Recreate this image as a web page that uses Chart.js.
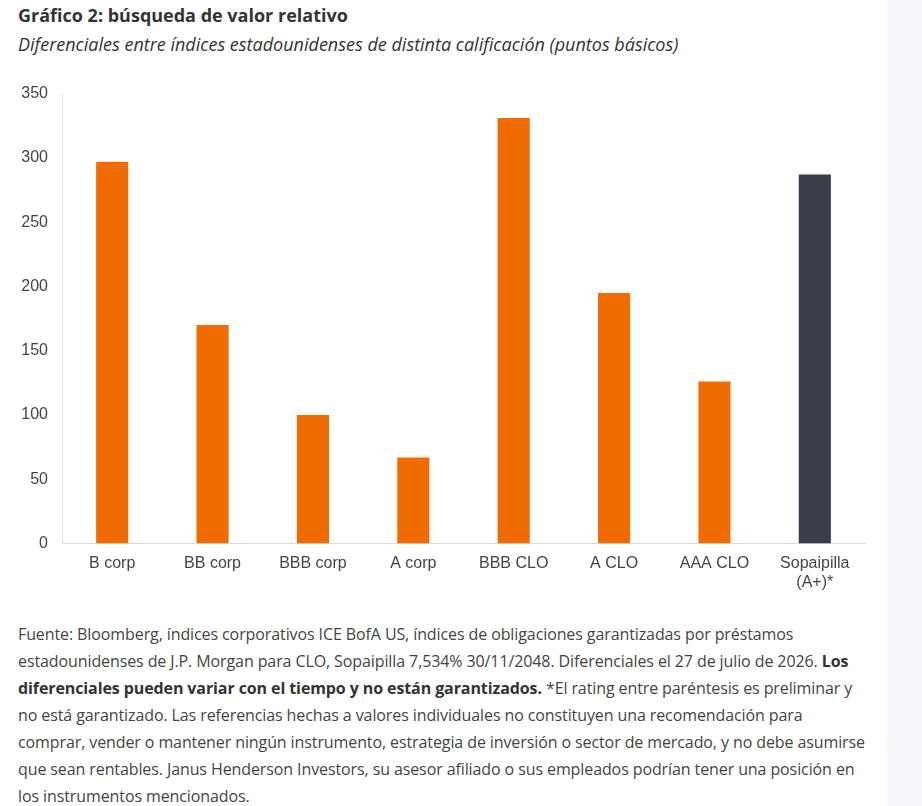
<!DOCTYPE html>
<html lang="es">
  <head>
    <meta charset="UTF-8" />
    <title>Gráfico 2: búsqueda de valor relativo</title>
    <script src="https://cdn.jsdelivr.net/npm/chart.js"></script>
    <style>
      html, body { margin: 0; padding: 0; background: #fff; }
      body { width: 922px; height: 806px; position: relative; overflow: hidden; font-family: "Open Sans", sans-serif; }
      .franja { position: absolute; left: 887px; top: 0; width: 35px; height: 806px; background: #f6f8fb; }
      .titulo { position: absolute; left: 18px; top: 3px; font-size: 18px; font-weight: 700; color: #333; white-space: nowrap; }
      .subtitulo { position: absolute; left: 18px; top: 32px; font-size: 18px; font-style: italic; color: #333; white-space: nowrap; }
      .grafico { position: absolute; left: 0; top: 70px; width: 880px; height: 532px; }
      .fuente { position: absolute; left: 18px; top: 621px; width: 880px; font-size: 16px; letter-spacing: -0.1px; line-height: 27px; color: #444; }
      .fuente b { color: #333; }
    </style>
  </head>
  <body>
    <div class="franja"></div>
    <div class="titulo">Gráfico 2: búsqueda de valor relativo</div>
    <div class="subtitulo">Diferenciales entre índices estadounidenses de distinta calificación (puntos básicos)</div>
    <div class="grafico"><canvas id="grafico-diferenciales"></canvas></div>
    <div class="fuente">
      Fuente: Bloomberg, índices corporativos ICE BofA US, índices de obligaciones garantizadas por préstamos<br />
      estadounidenses de J.P. Morgan para CLO, Sopaipilla 7,534% 30/11/2048. Diferenciales el 27 de julio de 2026. <b>Los</b><br />
      <b>diferenciales pueden variar con el tiempo y no están garantizados.</b> *El rating entre paréntesis es preliminar y<br />
      no está garantizado. Las referencias hechas a valores individuales no constituyen una recomendación para<br />
      comprar, vender o mantener ningún instrumento, estrategia de inversión o sector de mercado, y no debe asumirse<br />
      que sean rentables. Janus Henderson Investors, su asesor afiliado o sus empleados podrían tener una posición en<br />
      los instrumentos mencionados.
    </div>

    <script>
      const categorias = [
        "B corp",
        "BB corp",
        "BBB corp",
        "A corp",
        "BBB CLO",
        "A CLO",
        "AAA CLO",
        ["Sopaipilla", "(A+)*"],
      ];
      const diferenciales = [297, 170, 100, 67, 331, 195, 126, 287];
      const coloresBarras = [
        "#f06c00", "#f06c00", "#f06c00", "#f06c00",
        "#f06c00", "#f06c00", "#f06c00", "#3a3e48",
      ];

      const lienzo = document.getElementById("grafico-diferenciales");

      new Chart(lienzo, {
        type: "bar",
        data: {
          labels: categorias,
          datasets: [
            {
              label: "Diferencial",
              data: diferenciales,
              backgroundColor: coloresBarras,
              borderWidth: 0,
              barPercentage: 0.32,
              categoryPercentage: 1,
            },
          ],
        },
        options: {
          responsive: true,
          maintainAspectRatio: false,
          animation: false,
          layout: { padding: { top: 4, right: 15, left: 0, bottom: 0 } },
          plugins: {
            legend: { display: false },
            tooltip: { enabled: false },
          },
          scales: {
            x: {
              grid: { display: false, drawTicks: false },
              border: { display: true, color: "#d9dbe3", width: 1 },
              ticks: {
                padding: 10,
                color: "#40444f",
                maxRotation: 0,
                autoSkip: false,
                font: { family: "Liberation Sans", size: 16 },
              },
            },
            y: {
              min: 0,
              max: 350,
              grid: { display: false, drawTicks: false },
              border: { display: true, color: "#e4e6ea", width: 1 },
              afterFit: (escala) => { escala.width = 62; },
              ticks: {
                stepSize: 50,
                padding: 14,
                color: "#40444f",
                font: { family: "Liberation Sans", size: 16 },
              },
            },
          },
        },
      });
    </script>
  </body>
</html>
